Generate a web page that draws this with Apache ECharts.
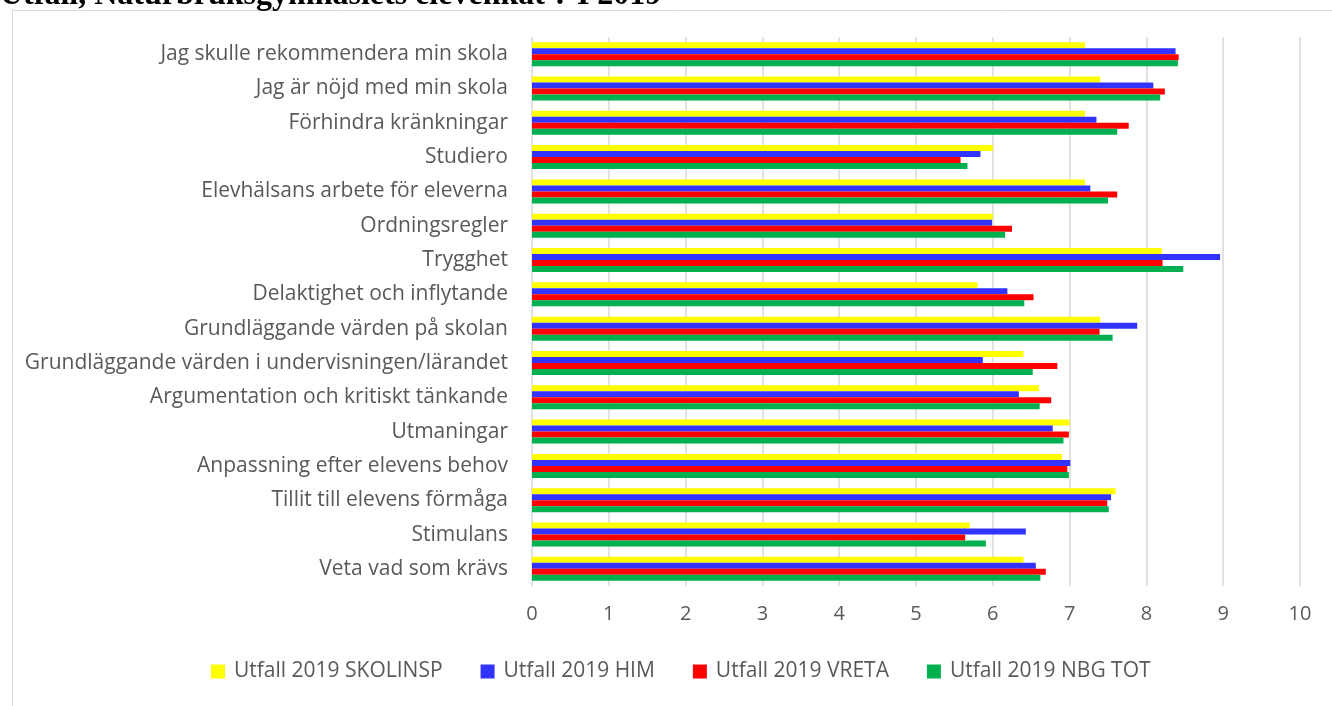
<!DOCTYPE html>
<html>
<head>
<meta charset="utf-8">
<script src="https://cdn.jsdelivr.net/npm/echarts@6/dist/echarts.min.js"></script>
<style>
  html, body { margin: 0; padding: 0; background: #fff; }
  #main { width: 1332px; height: 706px; }
</style>
</head>
<body>
<div id="main"></div>
<script>
// kategorier uppifrån och ned
var categories = [
  'Jag skulle rekommendera min skola',
  'Jag är nöjd med min skola',
  'Förhindra kränkningar',
  'Studiero',
  'Elevhälsans arbete för eleverna',
  'Ordningsregler',
  'Trygghet',
  'Delaktighet och inflytande',
  'Grundläggande värden på skolan',
  'Grundläggande värden i undervisningen/lärandet',
  'Argumentation och kritiskt tänkande',
  'Utmaningar',
  'Anpassning efter elevens behov',
  'Tillit till elevens förmåga',
  'Stimulans',
  'Veta vad som krävs'
];

var skolinsp = [7.2, 7.4, 7.2, 6.0, 7.2, 6.0, 8.2, 5.8, 7.4, 6.4, 6.6, 7.0, 6.9, 7.6, 5.7, 6.4];
var him      = [8.38, 8.09, 7.35, 5.84, 7.27, 5.99, 8.96, 6.19, 7.88, 5.87, 6.34, 6.78, 7.01, 7.54, 6.43, 6.56];
var vreta    = [8.42, 8.24, 7.77, 5.58, 7.62, 6.25, 8.21, 6.53, 7.39, 6.84, 6.76, 6.99, 6.97, 7.49, 5.64, 6.69];
var nbgTot   = [8.41, 8.18, 7.62, 5.67, 7.50, 6.16, 8.48, 6.41, 7.56, 6.52, 6.61, 6.92, 6.99, 7.51, 5.91, 6.62];

var xTicks = [0, 1, 2, 3, 4, 5, 6, 7, 8, 9, 10];

var seriesNames = ['Utfall 2019 SKOLINSP', 'Utfall 2019 HIM', 'Utfall 2019 VRETA', 'Utfall 2019 NBG TOT'];
var seriesColors = ['#FFFF00', '#3333FF', '#FF0000', '#00B050'];
var seriesData = [skolinsp, him, vreta, nbgTot];

var font = '"Open Sans", "Noto Sans", sans-serif';

var myChart = echarts.init(document.getElementById('main'));

var seriesList = seriesData.map(function (d, i) {
  return {
    name: seriesNames[i],
    type: 'bar',
    data: d,
    barWidth: 6,
    barGap: '0%',
    itemStyle: { color: seriesColors[i] },
    emphasis: { disabled: true }
  };
});

var option = {
  animation: false,
  textStyle: { fontFamily: font },
  graphic: [
    {
      type: 'rect',
      shape: { x: 12.5, y: 10.5, width: 1340, height: 720 },
      style: { fill: 'none', stroke: '#d9d9d9', lineWidth: 1 },
      z: 0
    },
    {
      type: 'text',
      left: 0,
      top: -20,
      style: {
        text: 'Utfall, Naturbruksgymnasiets elevenkät ? I 2019',
        font: 'bold 32px "Liberation Serif", "DejaVu Serif", serif',
        fill: '#000'
      }
    }
  ],
  grid: {
    left: 532,
    right: 32,
    top: 37,
    bottom: 120
  },
  legend: {
    bottom: 19,
    left: 206,
    itemWidth: 14,
    itemHeight: 14,
    itemGap: 38,
    icon: 'rect',
    textStyle: { fontSize: 21, color: '#595959', fontFamily: font, padding: [0, 0, 0, 4] },
    data: seriesNames
  },
  xAxis: {
    type: 'value',
    min: xTicks[0],
    max: xTicks[xTicks.length - 1],
    interval: 1,
    axisLine: { show: false },
    axisTick: { show: false },
    axisLabel: { fontSize: 20, color: '#595959', margin: 18 },
    splitLine: { lineStyle: { color: '#d9d9d9', width: 1.5 } }
  },
  yAxis: {
    type: 'category',
    inverse: true,
    data: categories,
    axisLine: { show: false },
    axisTick: { show: false },
    axisLabel: { fontSize: 21, color: '#595959', margin: 24 }
  },
  series: seriesList
};

myChart.setOption(option);
</script>
</body>
</html>
